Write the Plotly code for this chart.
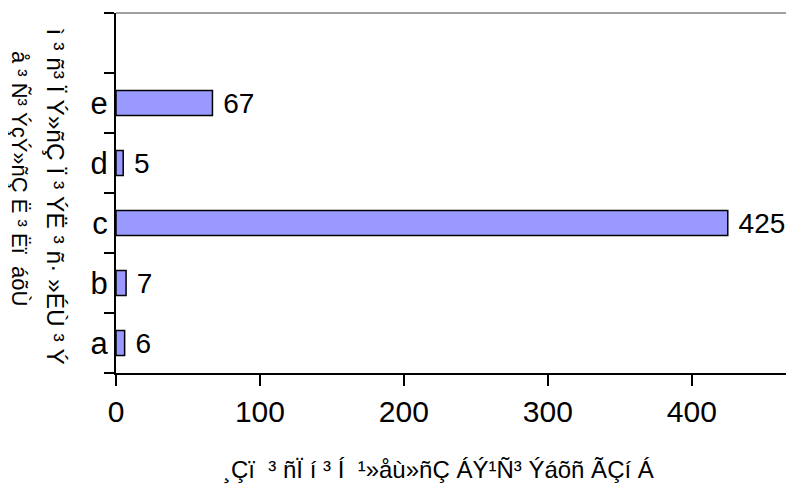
import plotly.graph_objects as go

categories = ["a", "b", "c", "d", "e"]
values = [6, 7, 425, 5, 67]
axis_categories = categories + [" "]
x_ticks = [0, 100, 200, 300, 400]
y_title_line1 = "ì ³ ñ³ Ï Ý»ñÇ Ï ³ ÝË ³ ñ· »ÉÙ ³ Ý"
y_title_line2 = "å ³ Ñ³ ÝçÝ»ñÇ Ë ³ Ëï  áõÙ"
x_title = "¸Çï  ³ ñÏ í ³ Í  ¹»åù»ñÇ ÁÝ¹Ñ³ Ýáõñ ÃÇí Á"

num_font = "Liberation Sans, Arial"
txt_font = "Liberation Sans, Arial"


def nb(s):
    return s.replace(" ", "\u00a0")


fig = go.Figure(
    go.Bar(
        y=categories,
        x=values,
        orientation="h",
        marker=dict(color="#9999FF", line=dict(color="black", width=1.5)),
        texttemplate=" %{x}",
        textposition="outside",
        constraintext="none",
        cliponaxis=False,
        textfont=dict(family=num_font, size=28, color="black"),
    )
)

fig.update_layout(
    width=786,
    height=486,
    margin=dict(l=108, r=0, t=5, b=121, autoexpand=False),
    plot_bgcolor="white",
    paper_bgcolor="white",
    showlegend=False,
    bargap=0.58,
    xaxis=dict(
        range=[0, 471],
        tickvals=x_ticks,
        ticks="outside",
        ticklen=11,
        tickwidth=1.5,
        tickcolor="black",
        showline=True,
        linecolor="black",
        linewidth=1.5,
        showgrid=False,
        zeroline=False,
        automargin=False,
        tickfont=dict(family=num_font, size=30, color="black"),
    ),
    yaxis=dict(
        type="category",
        categoryorder="array",
        categoryarray=axis_categories,
        range=[-0.5, 5.5],
        tickson="boundaries",
        ticks="outside",
        ticklen=10,
        tickwidth=1.5,
        tickcolor="black",
        showline=True,
        linecolor="black",
        linewidth=2,
        showgrid=False,
        zeroline=False,
        automargin=False,
        tickfont=dict(family=txt_font, size=31, color="black"),
    ),
    shapes=[
        dict(type="line", xref="paper", yref="paper", x0=0, x1=1, y0=1, y1=1,
             line=dict(color="gray", width=1.5))
    ],
    annotations=[
        dict(text=nb(y_title_line1), xref="paper", yref="paper",
             x=-0.09, y=0.49, textangle=90, showarrow=False,
             font=dict(family=txt_font, size=24.5, color="black"),
             xanchor="center", yanchor="middle"),
        dict(text=nb(y_title_line2), xref="paper", yref="paper",
             x=-0.142, y=0.54, textangle=90, showarrow=False,
             font=dict(family=txt_font, size=22, color="black"),
             xanchor="center", yanchor="middle"),
        dict(text=nb(x_title), xref="paper", yref="paper",
             x=0.475, y=-0.27, showarrow=False,
             font=dict(family=txt_font, size=24, color="black"),
             xanchor="center", yanchor="middle"),
    ],
)

fig.write_html("out.html")
